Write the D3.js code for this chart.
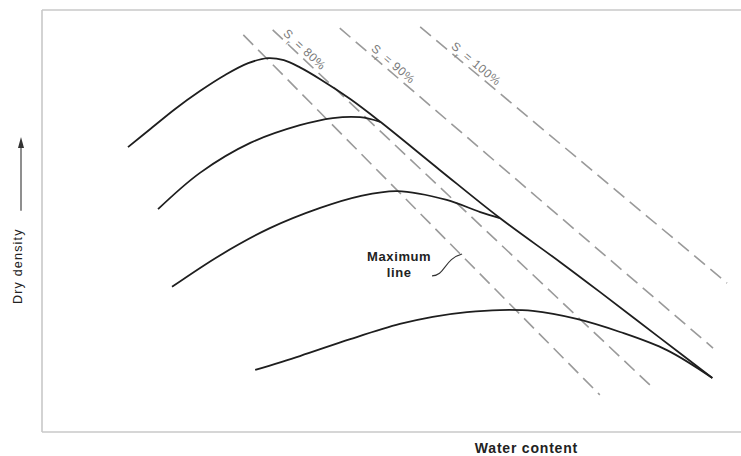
<!DOCTYPE html>
<html><head><meta charset="utf-8">
<script src="https://cdn.jsdelivr.net/npm/d3@7"></script>
<style>html,body{margin:0;padding:0;background:#fff}svg{display:block}</style>
</head><body>
<script>
// ---- data (arbitrary units: water content 0-100, dry density 0-100) ----
const curve1 = [[12.3,67.5],[15.5,71.8],[19.0,76.5],[22.6,80.8],[26.2,84.6],[29.5,87.4],[32.3,88.6],[34.6,88.1],[36.9,86.4],[39.8,83.6],[44.1,78.9],[48.4,73.5],[56.9,62.1],[65.5,50.7],[74.1,40.3],[79.8,33.2],[88.4,22.3],[95.9,12.8]];
const curve2 = [[16.6,52.8],[22.6,61.4],[29.8,68.5],[36.9,72.7],[41.6,74.4],[45.5,74.6],[48.4,73.5]];
const curve3 = [[18.6,34.4],[25.5,41.9],[32.6,48.3],[39.8,53.1],[45.5,55.9],[50.8,57.1],[57.9,55.0],[62.7,52.1],[65.5,50.7]];
const curve4 = [[30.5,14.7],[36.9,18.0],[44.1,22.0],[51.2,25.6],[55.9,27.3],[60.8,28.4],[65.5,28.9],[70.2,28.7],[76.5,26.8],[82.7,23.7],[89.4,19.4],[95.9,12.8]];
const compactionCurves = [curve1, curve2, curve3, curve4];

const satLines = [
  [[28.8,94.1],[79.8,8.8]],
  [[33.0,95.3],[87.0,11.1]],
  [[42.6,95.7],[96.0,19.9]],
  [[54.1,96.0],[98.0,35.3]]
];
const satLabels = ["80%", "90%", "100%"];
const satLabelLine = [1, 2, 3];
const satLabelT = [0.071, 0.13, 0.167];

const xTitle = "Water content";
const yTitle = "Dry density";
const annotLines = ["Maximum", "line"];

// ---- layout ----
const W = 741, H = 456;
const FONT = "Liberation Sans, Arial, sans-serif";
const svg = d3.select("body").append("svg").attr("width", W).attr("height", H);
svg.append("rect").attr("width", W).attr("height", H).attr("fill", "#fff");

const x = d3.scaleLinear().domain([0, 100]).range([42, 741]);
const y = d3.scaleLinear().domain([0, 100]).range([432, 10]);

// frame
const frame = svg.append("g").attr("stroke", "#c8c8c8").attr("stroke-width", 1.6).attr("fill", "none");
frame.append("line").attr("x1", x(0)).attr("x2", x(0)).attr("y1", y(100)).attr("y2", y(0));
frame.append("line").attr("x1", x(0)).attr("x2", x(100)).attr("y1", y(100)).attr("y2", y(100));
frame.append("line").attr("x1", x(0)).attr("x2", x(100)).attr("y1", y(0)).attr("y2", y(0));

// saturation lines
svg.append("g").selectAll("line").data(satLines).join("line")
  .attr("x1", d => x(d[0][0])).attr("y1", d => y(d[0][1]))
  .attr("x2", d => x(d[1][0])).attr("y2", d => y(d[1][1]))
  .attr("stroke", "#9a9a9a").attr("stroke-width", 1.6).attr("stroke-dasharray", "14,7");

// saturation labels
satLabels.forEach((lab, i) => {
  const seg = satLines[satLabelLine[i]];
  const x0 = x(seg[0][0]), y0 = y(seg[0][1]), x1 = x(seg[1][0]), y1 = y(seg[1][1]);
  const dx = x1 - x0, dy = y1 - y0, len = Math.hypot(dx, dy);
  const ux = dx / len, uy = dy / len;
  const t = satLabelT[i] * len;
  const off = 3.5;
  const px = x0 + ux * t + uy * off, py = y0 + uy * t - ux * off;
  const ang = Math.atan2(dy, dx) * 180 / Math.PI;
  const tx = svg.append("text")
    .attr("transform", `translate(${px},${py}) rotate(${ang})`)
    .attr("text-anchor", "middle")
    .attr("font-family", FONT).attr("letter-spacing", 0.6)
    .attr("font-size", 12).attr("fill", "#7a7a7a");
  tx.append("tspan").text("S");
  tx.append("tspan").attr("baseline-shift", "sub").attr("font-size", 8).text("r");
  tx.append("tspan").text(" = " + lab);
});

// compaction curves
const lineGen = d3.line().x(d => x(d[0])).y(d => y(d[1])).curve(d3.curveCatmullRom.alpha(0.5));
svg.append("g").selectAll("path").data(compactionCurves).join("path")
  .attr("d", lineGen).attr("fill", "none")
  .attr("stroke", "#1e1e1e").attr("stroke-width", 1.8).attr("stroke-linejoin", "round");

// annotation
const ann = svg.append("g").attr("font-family", FONT)
  .attr("font-weight", "bold").attr("font-size", 13).attr("letter-spacing", 0.6)
  .attr("fill", "#222").attr("text-anchor", "middle");
ann.append("text").attr("x", x(51.1)).attr("y", y(40.5)).text(annotLines[0]);
ann.append("text").attr("x", x(51.1)).attr("y", y(36.7)).text(annotLines[1]);
const lx0 = x(55.8), ly0 = y(37.0), lx1 = x(60.1), ly1 = y(42.2);
svg.append("path")
  .attr("d", `M${lx0},${ly0} C${lx0 + 13},${ly0} ${lx0 + 12},${ly1 + 5} ${lx1},${ly1}`)
  .attr("fill", "none").attr("stroke", "#333").attr("stroke-width", 1.1);

// axis titles
svg.append("text").attr("x", x(69.3)).attr("y", 453)
  .attr("text-anchor", "middle").attr("font-family", FONT).attr("letter-spacing", 0.8)
  .attr("font-weight", "bold").attr("font-size", 14).attr("fill", "#222").text(xTitle);
svg.append("text").attr("transform", `translate(22,${y(39.3)}) rotate(-90)`)
  .attr("text-anchor", "middle").attr("font-family", FONT).attr("letter-spacing", 1.2)
  .attr("font-size", 12.5).attr("fill", "#222").text(yTitle);
// arrow
svg.append("line").attr("x1", 21).attr("x2", 21).attr("y1", y(52.4)).attr("y2", y(68.2))
  .attr("stroke", "#333").attr("stroke-width", 1.1);
svg.append("path")
  .attr("d", `M21,${y(69.9)} L18,${y(67.3)} L24,${y(67.3)} Z`).attr("fill", "#333");
</script>
</body></html>
